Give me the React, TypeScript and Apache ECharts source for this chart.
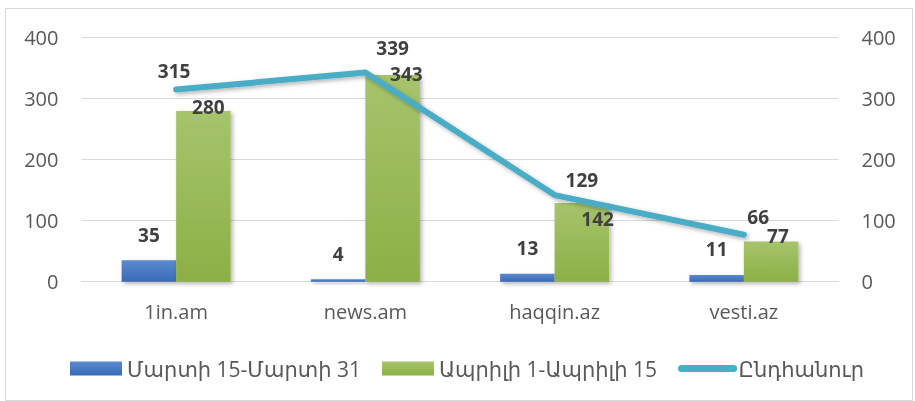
import React, { useEffect, useRef } from "react";
import * as echarts from "echarts";

const categories = ["1in.am", "news.am", "haqqin.az", "vesti.az"];
const seriesNames = ["Մարտի 15-Մարտի 31", "Ապրիլի 1-Ապրիլի 15", "Ընդհանուր"];
const marchValues = [35, 4, 13, 11];
const aprilValues = [280, 339, 129, 66];
const totalValues = [315, 343, 142, 77];
const yTicks = { min: 0, max: 400, interval: 100 };

const FONT = "'Open Sans', 'DejaVu Sans', sans-serif";
const labelBase = {
  show: true,
  color: "#404040",
  fontWeight: "bold" as const,
  fontSize: 19,
  fontFamily: FONT,
};

// label placement tweaks (per category) to mirror the reference
const aprilLabelPos = [
  { distance: 0, offset: [5, 6] },
  { distance: 17, offset: [0, 0] },
  { distance: 14, offset: [0, 0] },
  { distance: 15, offset: [-13, 0] },
];
const totalLabelPos = [
  { distance: 8, offset: [-2, 0] },
  { distance: 0, offset: [41, 12] },
  { distance: 0, offset: [43, 34] },
  { distance: 0, offset: [34, 12] },
];

export default function App() {
  const ref = useRef<HTMLDivElement>(null);
  useEffect(() => {
    if (!ref.current) return;
    const chart = echarts.init(ref.current, undefined, { renderer: "svg" });
    const blueGrad = new echarts.graphic.LinearGradient(0, 0, 0, 1, [
      { offset: 0, color: "#5b8ad0" },
      { offset: 1, color: "#3a6ab4" },
    ]);
    const greenGrad = new echarts.graphic.LinearGradient(0, 0, 0, 1, [
      { offset: 0, color: "#a6c46c" },
      { offset: 1, color: "#8cb045" },
    ]);
    const barShadow = {
      shadowBlur: 4,
      shadowOffsetX: 2,
      shadowOffsetY: 2,
      shadowColor: "rgba(0,0,0,0.3)",
    };
    const yAxisBase = {
      type: "value" as const,
      min: yTicks.min,
      max: yTicks.max,
      interval: yTicks.interval,
      axisLine: { show: false },
      axisTick: { show: false },
      axisLabel: { color: "#595959", fontSize: 20, fontFamily: FONT, margin: 23 },
    };
    chart.setOption({
      animation: false,
      graphic: [
        {
          type: "rect",
          shape: { x: 5.5, y: 8.5, width: 907, height: 392 },
          style: { fill: "none", stroke: "#d9d9d9", lineWidth: 1 },
          silent: true,
        },
      ],
      grid: { left: 81.5, right: 76.5, top: 37.7, bottom: 119.3 },
      legend: {
        left: 65,
        top: 353,
        itemWidth: 52,
        itemHeight: 14,
        itemGap: 21,
        textStyle: { color: "#595959", fontSize: 21, fontFamily: FONT },
        data: [
          { name: seriesNames[0], icon: "rect" },
          { name: seriesNames[1], icon: "rect" },
          {
            name: seriesNames[2],
            itemStyle: { opacity: 0 },
            lineStyle: { width: 7, cap: "round", color: "#4bacc6" },
          },
        ],
      },
      xAxis: {
        type: "category",
        data: categories,
        axisLine: { lineStyle: { color: "#d9d9d9", width: 1 } },
        axisTick: { show: false },
        axisLabel: { color: "#595959", fontSize: 20, fontFamily: FONT, margin: 20 },
      },
      yAxis: [
        {
          ...yAxisBase,
          position: "left",
          splitLine: { lineStyle: { color: "#d9d9d9", width: 1 } },
        },
        {
          ...yAxisBase,
          position: "right",
          splitLine: { show: false },
        },
      ],
      series: [
        {
          name: seriesNames[0],
          type: "bar",
          data: marchValues,
          barWidth: 54.5,
          barGap: "0%",
          itemStyle: { color: blueGrad, ...barShadow },
          label: { ...labelBase, position: "top", distance: 16 },
        },
        {
          name: seriesNames[1],
          type: "bar",
          data: aprilValues.map((v, i) => ({
            value: v,
            label: { ...labelBase, position: "top", ...aprilLabelPos[i] },
          })),
          barWidth: 54.5,
          barGap: "0%",
          itemStyle: { color: greenGrad, ...barShadow },
        },
        {
          name: seriesNames[2],
          type: "line",
          yAxisIndex: 1,
          data: totalValues.map((v, i) => ({
            value: v,
            label: { ...labelBase, position: "top", ...totalLabelPos[i] },
          })),
          symbol: "circle",
          symbolSize: 2,
          itemStyle: { color: "#4bacc6" },
          lineStyle: {
            color: "#4bacc6",
            width: 6,
            cap: "round",
            join: "round",
            shadowBlur: 4,
            shadowOffsetX: 2,
            shadowOffsetY: 2,
            shadowColor: "rgba(0,0,0,0.3)",
          },
          z: 5,
        },
      ],
    });
    return () => chart.dispose();
  }, []);
  return (
    <div
      ref={ref}
      style={{ position: "fixed", left: 0, top: 0, width: 915, height: 401 }}
    />
  );
}
